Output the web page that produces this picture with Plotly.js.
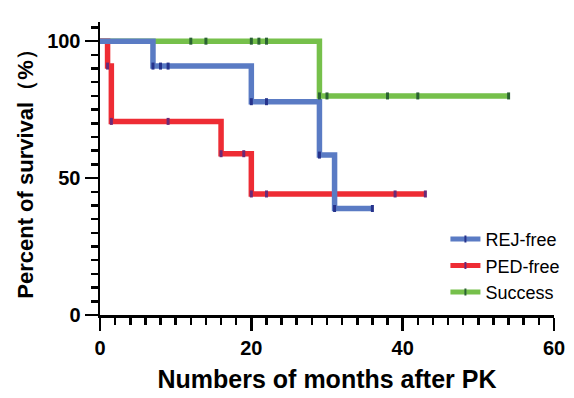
<!DOCTYPE html>
<html>
<head>
<meta charset="utf-8">
<script src="https://cdn.plot.ly/plotly-3.0.1.min.js"></script>
<style>html,body{margin:0;padding:0;background:#fff;}#chart{width:574px;height:398px;}</style>
</head>
<body>
<div id="chart"></div>
<script>
// Kaplan-Meier step data (time in months, survival %)
const rejTime = [0, 7, 20, 29, 31, 36];
const rejSurv = [100, 90.9, 77.9, 58.4, 38.9, 38.9];
const rejCensorTime = [7, 8, 9, 20, 22, 29, 31, 36];
const rejCensorSurv = [90.9, 90.9, 90.9, 77.9, 77.9, 58.4, 38.9, 38.9];

const pedTime = [0, 1, 1.5, 16, 20, 43];
const pedSurv = [100, 90.9, 70.7, 58.9, 44.2, 44.2];
const pedCensorTime = [1, 1.5, 9, 16, 19, 20, 22, 39, 43];
const pedCensorSurv = [90.9, 70.7, 70.7, 58.9, 58.9, 44.2, 44.2, 44.2, 44.2];

const sucTime = [0, 29, 54];
const sucSurv = [100, 80, 80];
const sucCensorTime = [12, 14, 20, 21, 22, 29, 30, 38, 42, 54];
const sucCensorSurv = [100, 100, 100, 100, 100, 80, 80, 80, 80, 80];

const seriesNames = ['REJ-free', 'PED-free', 'Success'];
const lineColors = ['#5a7bc4', '#ee2c34', '#76c04b'];
const censorColors = ['#26338c', '#6a2a78', '#2a6232'];

const xTicks = [0, 20, 40, 60];
const yTicks = [0, 50, 100];

const series = [
  [rejTime, rejSurv, rejCensorTime, rejCensorSurv],
  [pedTime, pedSurv, pedCensorTime, pedCensorSurv],
  [sucTime, sucSurv, sucCensorTime, sucCensorSurv]
];

const traces = [];
// draw order: green, red, blue (blue on top)
const order = [2, 1, 0];
order.forEach(i => {
  const s = series[i];
  traces.push({
    x: s[0], y: s[1], type: 'scatter', mode: 'lines',
    line: {shape: 'hv', color: lineColors[i], width: 5.5},
    showlegend: false, hoverinfo: 'skip'
  });
});
order.forEach(i => {
  const s = series[i];
  traces.push({
    x: s[2], y: s[3], type: 'scatter', mode: 'markers',
    marker: {symbol: 'line-ns', size: 5, color: censorColors[i], line: {color: censorColors[i], width: 3}},
    showlegend: false, hoverinfo: 'skip'
  });
});
// legend entries
[0, 1, 2].forEach(i => {
  traces.push({
    x: [null], y: [null], type: 'scatter', mode: 'lines+markers', name: seriesNames[i],
    line: {color: lineColors[i], width: 5},
    marker: {symbol: 'line-ns', size: 5, color: censorColors[i], line: {color: censorColors[i], width: 2}}
  });
});

const fontFam = 'Liberation Sans, Arial, sans-serif';
const layout = {
  width: 574, height: 398,
  margin: {l: 100, r: 20, t: 22, b: 83, autoexpand: false},
  paper_bgcolor: '#fff', plot_bgcolor: '#fff',
  font: {family: fontFam, color: '#000'},
  xaxis: {
    range: [0, 60], tickvals: xTicks, ticktext: xTicks.map(String),
    ticks: 'outside', ticklen: 13, tickwidth: 2.5, tickcolor: '#000',
    showline: true, linewidth: 2.5, linecolor: '#000', showgrid: false, zeroline: false,
    tickfont: {size: 20, family: fontFam, weight: 'bold'},
    minor: {dtick: 2, tick0: 0, ticks: 'outside', ticklen: 7, tickwidth: 2.5, tickcolor: '#000', showgrid: false},
    title: {text: 'Numbers of months after PK', font: {size: 25, family: fontFam, weight: 'bold'}, standoff: 13},
    automargin: false,
    fixedrange: true
  },
  yaxis: {
    range: [0, 107], tickvals: yTicks, ticktext: yTicks.map(String),
    ticks: 'outside', ticklen: 13, tickwidth: 2.5, tickcolor: '#000',
    showline: true, linewidth: 2.5, linecolor: '#000', showgrid: false, zeroline: false,
    tickfont: {size: 20, family: fontFam, weight: 'bold'},
    minor: {dtick: 5, tick0: 0, ticks: 'outside', ticklen: 7, tickwidth: 2.5, tickcolor: '#000', showgrid: false},
    title: {text: 'Percent of survival（%）', font: {size: 22, family: fontFam, weight: 'bold'}, standoff: 8},
    automargin: false,
    fixedrange: true
  },
  legend: {
    xref: 'container', yref: 'container',
    x: 0.776, y: 0.445, xanchor: 'left', yanchor: 'top',
    font: {size: 18, family: fontFam, color: '#000'},
    bgcolor: 'rgba(0,0,0,0)', borderwidth: 0, tracegroupgap: 0
  },
  showlegend: true
};

Plotly.newPlot('chart', traces, layout, {displayModeBar: false, staticPlot: true});
</script>
</body>
</html>
